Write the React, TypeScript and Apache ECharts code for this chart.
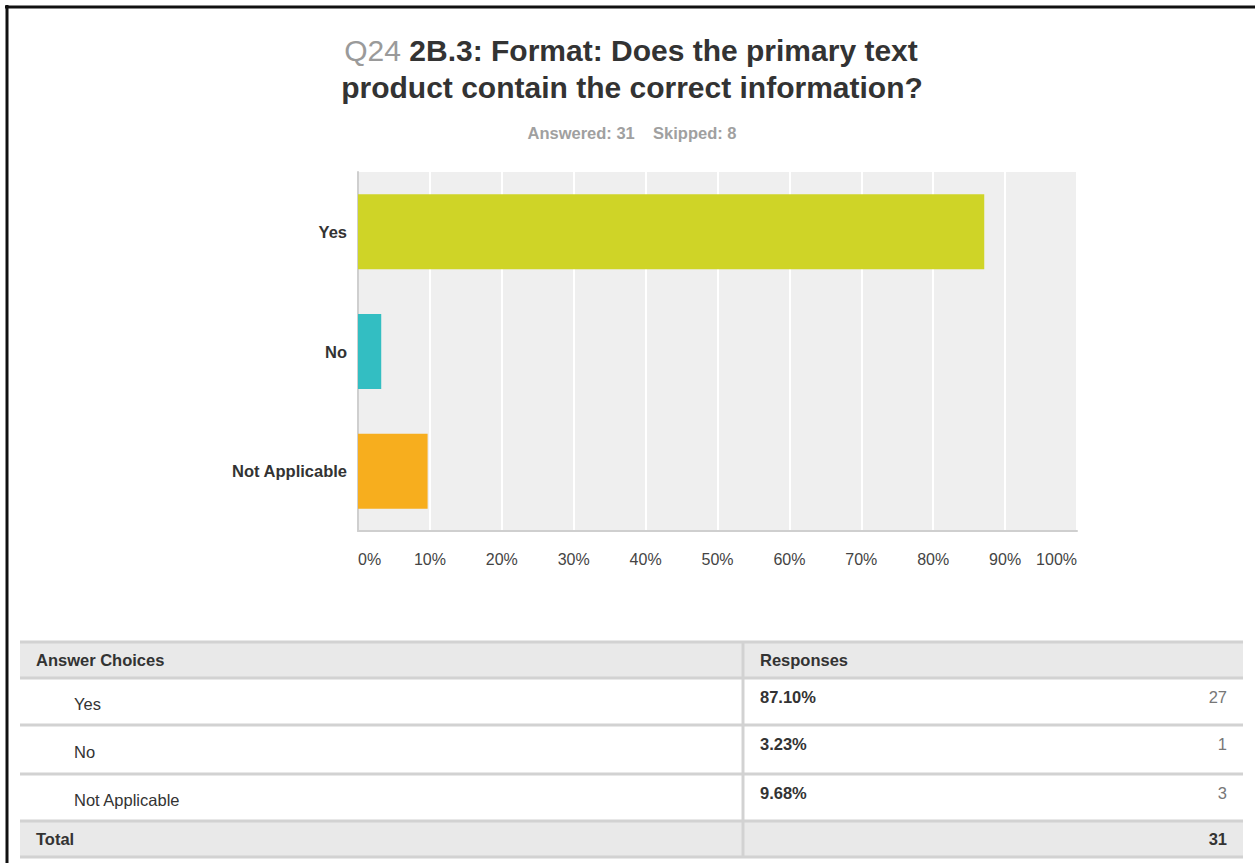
import React, { useEffect, useRef } from "react";
import * as echarts from "echarts";

const categories = ["Yes", "No", "Not Applicable"];
const percentValues = [87.1, 3.23, 9.68];
const responseCounts = [27, 1, 3];
const barColors = ["#cfd427", "#33bec2", "#f7ae1e"];
const xTickLabels = ["0%", "10%", "20%", "30%", "40%", "50%", "60%", "70%", "80%", "90%", "100%"];
const totalCount = 31;
const answered = 31;
const skipped = 8;

const FONT = "'Liberation Sans', Arial, Helvetica, sans-serif";
const FS = 16.5;

export default function App() {
  const ref = useRef<HTMLDivElement>(null);

  useEffect(() => {
    if (!ref.current) return;
    const chart = echarts.init(ref.current, undefined, { renderer: "svg" });

    const graphic: any[] = [];
    // outer black border
    graphic.push({ type: "line", shape: { x1: 5, y1: 7, x2: 1255, y2: 7 }, style: { stroke: "#111", lineWidth: 3 } });
    graphic.push({ type: "line", shape: { x1: 7, y1: 5, x2: 7, y2: 863 }, style: { stroke: "#111", lineWidth: 3 } });

    // Title
    graphic.push({
      type: "text",
      x: 631,
      y: 50,
      style: {
        text: "{q|Q24 }{t|2B.3: Format: Does the primary text}",
        align: "center",
        verticalAlign: "middle",
        rich: {
          q: { fontFamily: FONT, fontSize: 30, fill: "#9a9a9a", fontWeight: "normal" },
          t: { fontFamily: FONT, fontSize: 30, fill: "#333", fontWeight: "bold" },
        },
      },
    });
    graphic.push({
      type: "text",
      x: 632,
      y: 87,
      style: {
        text: "product contain the correct information?",
        align: "center",
        verticalAlign: "middle",
        fontFamily: FONT,
        fontSize: 30,
        fontWeight: "bold",
        fill: "#333",
      },
    });
    graphic.push({
      type: "text",
      x: 632,
      y: 133,
      style: {
        text: `Answered: ${answered}    Skipped: ${skipped}`,
        align: "center",
        verticalAlign: "middle",
        fontFamily: FONT,
        fontSize: 16.5,
        fontWeight: "bold",
        fill: "#a0a0a0",
      },
    });

    // Table
    const tL = 20, tR = 1243, divX = 743;
    const rowEdges = [642, 678, 725, 774, 821, 857];
    const lineColor = "#d2d2d2";
    const bg = "#e9e9e9";
    graphic.push({ type: "rect", shape: { x: tL, y: rowEdges[0], width: tR - tL, height: rowEdges[1] - rowEdges[0] }, style: { fill: bg } });
    graphic.push({ type: "rect", shape: { x: tL, y: rowEdges[4], width: tR - tL, height: rowEdges[5] - rowEdges[4] }, style: { fill: bg } });
    rowEdges.forEach((y) => {
      graphic.push({ type: "line", shape: { x1: tL, y1: y, x2: tR, y2: y }, style: { stroke: lineColor, lineWidth: 3 } });
    });
    graphic.push({ type: "line", shape: { x1: divX, y1: rowEdges[0], x2: divX, y2: rowEdges[5] }, style: { stroke: lineColor, lineWidth: 3 } });

    const txt = (text: string, x: number, y: number, opts: any = {}) => ({
      type: "text",
      x,
      y,
      style: {
        text,
        align: opts.align || "left",
        verticalAlign: "middle",
        fontFamily: FONT,
        fontSize: FS,
        fontWeight: opts.bold ? "bold" : "normal",
        fill: opts.fill || "#333",
      },
    });
    graphic.push(txt("Answer Choices", 36, 660, { bold: true }));
    graphic.push(txt("Responses", 760, 660, { bold: true }));
    categories.forEach((c, i) => {
      const top = rowEdges[i + 1];
      const bottom = rowEdges[i + 2];
      const mid = (top + bottom) / 2;
      graphic.push(txt(c, 74, mid + 2, {}));
      graphic.push(txt(percentValues[i].toFixed(2) + "%", 760, top + 19, { bold: true }));
      graphic.push(txt(String(responseCounts[i]), 1227, top + 19, { align: "right", fill: "#777" }));
    });
    graphic.push(txt("Total", 36, 839, { bold: true }));
    graphic.push(txt(String(totalCount), 1227, 839, { align: "right", bold: true }));

    chart.setOption({
      animation: false,
      backgroundColor: "#fff",
      grid: {
        left: 358,
        top: 172,
        right: 178,
        bottom: 332,
        show: true,
        backgroundColor: "#efefef",
        borderWidth: 0,
      },
      xAxis: {
        type: "value",
        min: 0,
        max: 100,
        interval: 10,
        axisLine: { show: true, onZero: false, lineStyle: { color: "#cfcfcf", width: 2 } },
        axisTick: { show: false },
        splitLine: { show: true, lineStyle: { color: "#ffffff", width: 2 } },
        axisLabel: {
          margin: 20,
          color: "#444",
          fontFamily: FONT,
          fontSize: 16,
          alignMinLabel: "left",
          alignMaxLabel: "right",
          formatter: (v: number) => xTickLabels[Math.round(v / 10)] ?? "",
        },
      },
      yAxis: {
        type: "category",
        data: categories,
        inverse: true,
        axisLine: { show: true, lineStyle: { color: "#cfcfcf", width: 2 } },
        axisTick: { show: false },
        splitLine: { show: false },
        axisLabel: {
          margin: 11,
          color: "#333",
          fontFamily: FONT,
          fontSize: FS,
          fontWeight: "bold",
        },
      },
      series: [
        {
          type: "bar",
          barWidth: 75,
          data: percentValues.map((v, i) => ({ value: v, itemStyle: { color: barColors[i] } })),
        },
      ],
      graphic,
    });

    return () => chart.dispose();
  }, []);

  return (
    <div
      ref={ref}
      style={{ position: "absolute", left: 0, top: 0, width: 1255, height: 863, background: "#fff" }}
    />
  );
}
